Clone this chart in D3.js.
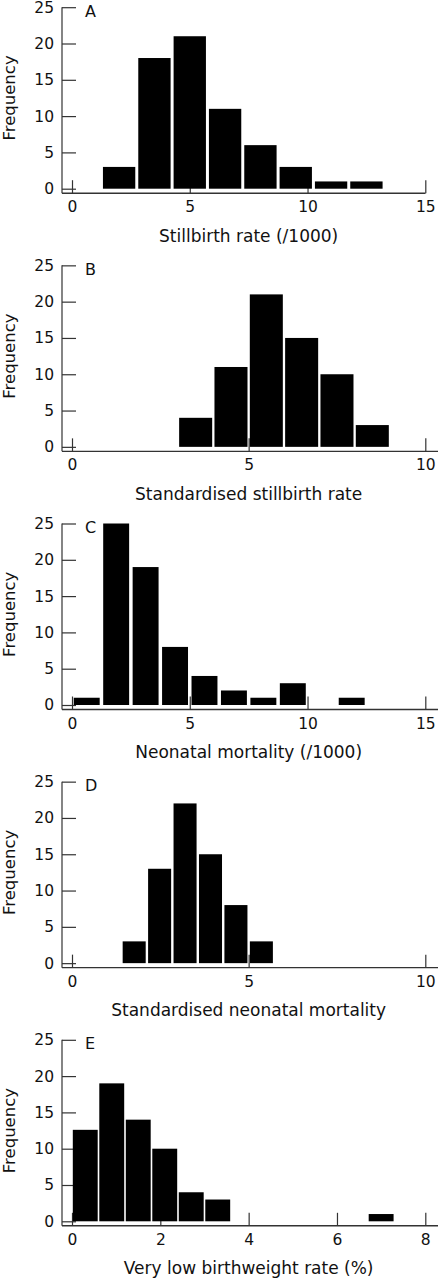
<!DOCTYPE html>
<html>
<head>
<meta charset="utf-8">
<script src="https://cdn.jsdelivr.net/npm/d3@7"></script>
<style>
  html, body { margin: 0; padding: 0; background: #fff; }
  svg { display: block; }
  text { font-family: "DejaVu Sans", sans-serif; fill: #111; }
</style>
</head>
<body>
<svg id="chart" width="438" height="1280"></svg>
<script>
// ---- Data ----
const panelLetters = ["A", "B", "C", "D", "E"];
const xTitles = [
  "Stillbirth rate (/1000)",
  "Standardised stillbirth rate",
  "Neonatal mortality (/1000)",
  "Standardised neonatal mortality",
  "Very low birthweight rate (%)"
];
const yTickValues = [0, 5, 10, 15, 20, 25];

const xMaxA = 15, xTicksA = [0, 5, 10, 15];
const binWidthA = 1.5;
const binStartsA = [1.25, 2.75, 4.25, 5.75, 7.25, 8.75, 10.25, 11.75];
const countsA = [3, 18, 21, 11, 6, 3, 1, 1];

const xMaxB = 10, xTicksB = [0, 5, 10];
const binWidthB = 1;
const binStartsB = [3, 4, 5, 6, 7, 8];
const countsB = [4, 11, 21, 15, 10, 3];

const xMaxC = 15, xTicksC = [0, 5, 10, 15];
const binWidthC = 1.25;
const binStartsC = [0, 1.25, 2.5, 3.75, 5, 6.25, 7.5, 8.75, 10, 11.25];
const countsC = [1, 25, 19, 8, 4, 2, 1, 3, 0, 1];

const xMaxD = 10, xTicksD = [0, 5, 10];
const binWidthD = 0.72;
const binStartsD = [1.4, 2.12, 2.84, 3.56, 4.28, 5.0];
const countsD = [3, 13, 22, 15, 8, 3];

const xMaxE = 8, xTicksE = [0, 2, 4, 6, 8];
const binWidthE = 0.6;
const binStartsE = [0, 0.6, 1.2, 1.8, 2.4, 3.0, 6.7];
const countsE = [12.6, 19, 14, 10, 4, 3, 1];

const panels = [
  { xMax: xMaxA, xTicks: xTicksA, w: binWidthA, starts: binStartsA, counts: countsA },
  { xMax: xMaxB, xTicks: xTicksB, w: binWidthB, starts: binStartsB, counts: countsB },
  { xMax: xMaxC, xTicks: xTicksC, w: binWidthC, starts: binStartsC, counts: countsC },
  { xMax: xMaxD, xTicks: xTicksD, w: binWidthD, starts: binStartsD, counts: countsD },
  { xMax: xMaxE, xTicks: xTicksE, w: binWidthE, starts: binStartsE, counts: countsE }
];

// ---- Layout ----
const gaps = [3, 2.3, 3.5, 2.4, 1.6];
const axisEnds = [425.5, 438, 438, 438, 438];
const yAxisX = 62, x0px = 72, x1px = 425.3;
const panelTop0 = 7.2, panelStep = 258.15, plotH = 181.5;
const axisOffset = 4.5;
const axisColor = "#333";

const svg = d3.select("#chart");

panels.forEach((p, i) => {
  const top = panelTop0 + panelStep * i;
  const yZero = top + plotH;
  const axisY = yZero + axisOffset;

  const x = d3.scaleLinear().domain([0, p.xMax]).range([x0px, x1px]);
  const y = d3.scaleLinear().domain([0, 25]).range([yZero, top]);

  const g = svg.append("g");

  // y axis (ticks pointing right, into plot)
  const yAx = g.append("g")
    .attr("transform", `translate(${yAxisX},0)`)
    .call(d3.axisLeft(y).tickValues(yTickValues).tickSize(-14).tickPadding(8).tickFormat(d3.format("d")));
  yAx.select(".domain").remove();
  yAx.selectAll(".tick line").attr("stroke", axisColor).attr("stroke-width", 1.2);
  yAx.selectAll(".tick text").attr("font-size", 15.5).attr("font-family", null).attr("fill", "#111");
  g.append("line")
    .attr("x1", yAxisX).attr("x2", yAxisX)
    .attr("y1", top).attr("y2", axisY)
    .attr("stroke", axisColor).attr("stroke-width", 1.2);

  // x axis (ticks pointing up)
  const xAx = g.append("g")
    .attr("transform", `translate(0,${axisY})`)
    .call(d3.axisBottom(x).tickValues(p.xTicks).tickSize(-13).tickPadding(8).tickFormat(d3.format("d")));
  xAx.select(".domain").remove();
  xAx.selectAll(".tick line").attr("stroke", axisColor).attr("stroke-width", 1.2);
  xAx.selectAll(".tick text").attr("font-size", 15.5).attr("font-family", null).attr("fill", "#111");
  g.append("line")
    .attr("x1", yAxisX).attr("x2", axisEnds[i])
    .attr("y1", axisY).attr("y2", axisY)
    .attr("stroke", axisColor).attr("stroke-width", 1.4);

  // bars
  const gap = gaps[i];
  const data = p.starts.map((s, k) => ({ s, c: p.counts[k] })).filter(d => d.c > 0);
  g.append("g").selectAll("rect")
    .data(data)
    .join("rect")
    .attr("x", d => x(d.s) + gap / 2)
    .attr("width", d => x(d.s + p.w) - x(d.s) - gap)
    .attr("y", d => y(d.c))
    .attr("height", d => y(0) - y(d.c))
    .attr("fill", "#000");

  // panel letter
  g.append("text")
    .attr("x", 85).attr("y", top + 9.5)
    .attr("font-size", 16)
    .text(panelLetters[i]);

  // y title
  g.append("text")
    .attr("transform", `translate(15,${(top + yZero) / 2}) rotate(-90)`)
    .attr("text-anchor", "middle")
    .attr("font-size", 16.5)
    .text("Frequency");

  // x title
  g.append("text")
    .attr("x", (x0px + x1px) / 2)
    .attr("y", yZero + 53)
    .attr("text-anchor", "middle")
    .attr("font-size", 17)
    .text(xTitles[i]);
});
</script>
</body>
</html>
